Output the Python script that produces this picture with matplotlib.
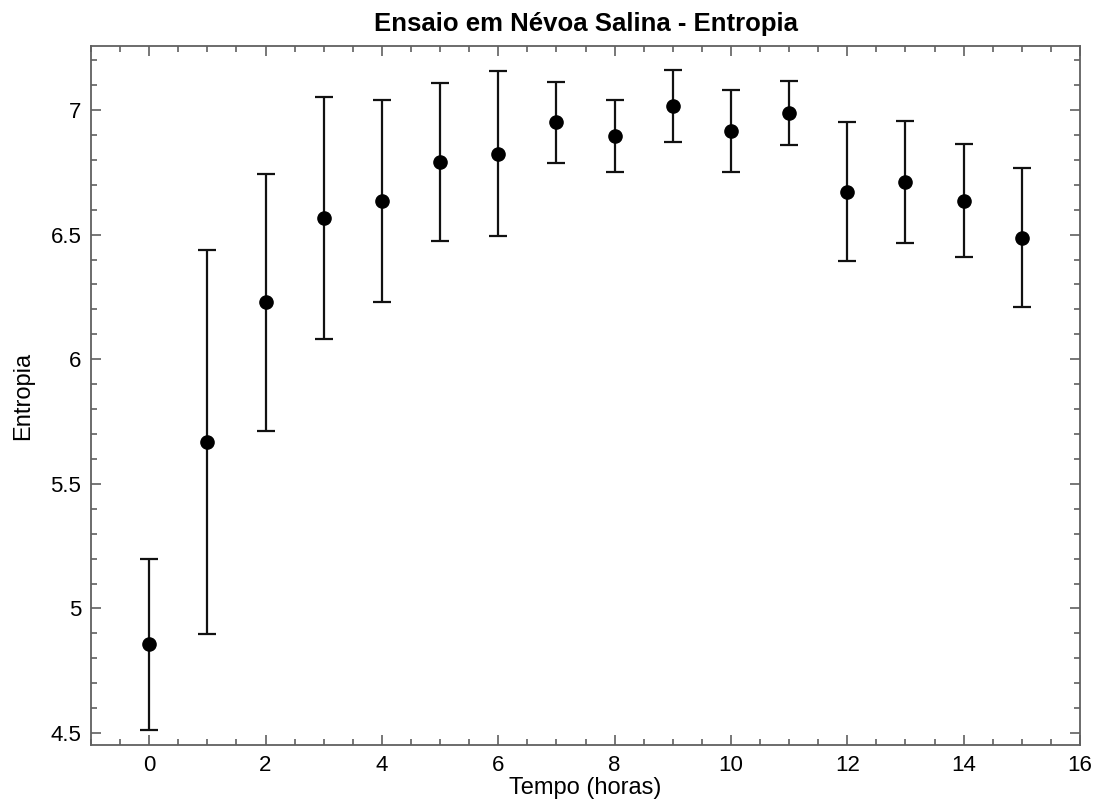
import matplotlib
matplotlib.use("Agg")
import matplotlib.pyplot as plt
from matplotlib.ticker import MultipleLocator

plt.rcParams['font.family'] = ['Liberation Sans', 'DejaVu Sans']

tempo = [0, 1, 2, 3, 4, 5, 6, 7, 8, 9, 10, 11, 12, 13, 14, 15]
entropia = [4.857, 5.668, 6.228, 6.568, 6.635, 6.792, 6.825, 6.951, 6.895, 7.016,
            6.916, 6.988, 6.673, 6.712, 6.636, 6.488]
desvio = [0.343, 0.771, 0.515, 0.486, 0.404, 0.316, 0.332, 0.162, 0.144, 0.145,
          0.164, 0.130, 0.280, 0.244, 0.226, 0.280]

fig = plt.figure(figsize=(11.01, 8.09), dpi=100)
ax = fig.add_axes([91/1101, 1 - 745/809, (1080 - 91)/1101, (745 - 46)/809])

ax.errorbar(tempo, entropia, yerr=desvio, fmt='o', color='black', ecolor='#111111',
            markersize=9.5, elinewidth=1.6, capsize=6.5, capthick=1.6)

ax.set_xlim(-1, 16)
ax.set_ylim(4.452, 7.257)
ax.xaxis.set_major_locator(MultipleLocator(2))
ax.xaxis.set_minor_locator(MultipleLocator(0.5))
ax.yaxis.set_major_locator(MultipleLocator(0.5))
ax.yaxis.set_minor_locator(MultipleLocator(0.1))
ax.set_yticks([4.5, 5, 5.5, 6, 6.5, 7])
ax.set_yticklabels(['4.5', '5', '5.5', '6', '6.5', '7'])

spine_c = '#606060'
for s in ax.spines.values():
    s.set_color(spine_c)
    s.set_linewidth(1.3)
ax.tick_params(which='both', direction='in', top=True, right=True, colors=spine_c,
               labelcolor='black', width=1.2)
ax.tick_params(which='major', length=7, labelsize=16, pad=7)
ax.tick_params(which='minor', length=4)

ax.set_xlabel('Tempo (horas)', fontsize=17, labelpad=1)
ax.set_ylabel('Entropia', fontsize=17, labelpad=12)
ax.set_title('Ensaio em Névoa Salina - Entropia', fontsize=18.5, fontweight='bold', pad=11)

fig.savefig('out.png', dpi=100)
